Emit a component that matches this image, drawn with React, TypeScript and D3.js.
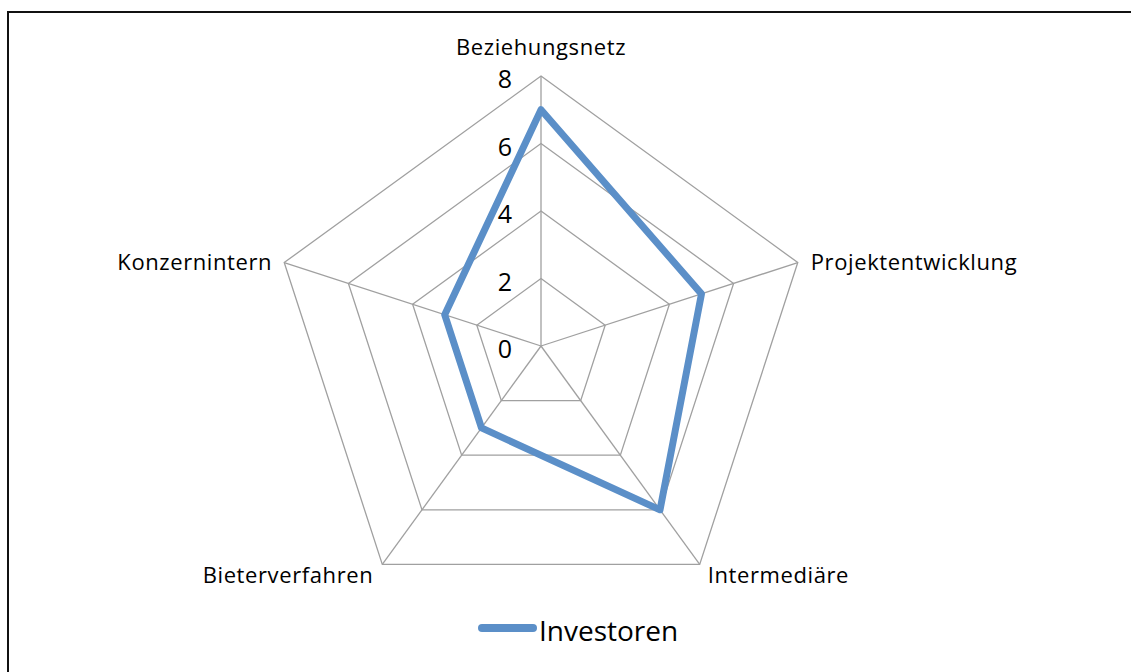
import React from "react";
import * as d3 from "d3";

const categories = [
  "Beziehungsnetz",
  "Projektentwicklung",
  "Intermediäre",
  "Bieterverfahren",
  "Konzernintern",
];
const investoren = [7, 5, 6, 3, 3];
const tickValues = [0, 2, 4, 6, 8];
const seriesName = "Investoren";

const W = 1131;
const H = 672;
const cx = 541;
const cy = 346;
const radius = 270;
const blue = "#5b8fc8";
const font = "'Open Sans', sans-serif";

export default function App() {
  const rScale = d3.scaleLinear().domain([0, 8]).range([0, radius]);
  const angle = d3
    .scaleLinear()
    .domain([0, categories.length])
    .range([0, 2 * Math.PI]);

  const pt = (i: number, v: number): [number, number] => {
    const a = angle(i);
    return [cx + rScale(v) * Math.sin(a), cy - rScale(v) * Math.cos(a)];
  };

  const polygon = (v: number) =>
    "M" + categories.map((_, i) => pt(i, v).join(",")).join("L") + "Z";

  const seriesPath =
    "M" + investoren.map((v, i) => pt(i, v).join(",")).join("L") + "Z";

  // label placement per axis
  const labelPos = (i: number) => {
    const [x, y] = pt(i, 8);
    if (i === 0) return { x, y: y - 21, anchor: "middle" };
    if (i === 1) return { x: x + 13, y: y + 7, anchor: "start" };
    if (i === 2) return { x: x + 8, y: y + 19, anchor: "start" };
    if (i === 3) return { x: x - 9, y: y + 19, anchor: "end" };
    return { x: x - 12, y: y + 7, anchor: "end" };
  };

  return (
    <svg
      width={W}
      height={H}
      style={{ position: "absolute", left: 0, top: 0, display: "block" }}
    >
      <rect x={0} y={0} width={W} height={H} fill="#fff" />
      <rect
        x={8}
        y={12}
        width={W + 20}
        height={H + 20}
        fill="none"
        stroke="#111"
        strokeWidth={2}
      />
      <g className="grid" fill="none" stroke="#a0a0a0" strokeWidth={1.3}>
        {tickValues.slice(1).map((t) => (
          <path key={t} d={polygon(t)} />
        ))}
        {categories.map((c, i) => {
          const [x, y] = pt(i, 8);
          return <line key={c} x1={cx} y1={cy} x2={x} y2={y} />;
        })}
      </g>
      <g className="ticks" fontFamily={font} fontSize={25} fill="#000">
        {tickValues.map((t) => (
          <text key={t} x={cx - 29} y={cy - rScale(t) + 12} textAnchor="end">
            {t}
          </text>
        ))}
      </g>
      <path
        d={seriesPath}
        fill="none"
        stroke={blue}
        strokeWidth={7}
        strokeLinejoin="round"
      />
      <g
        className="labels"
        fontFamily={font}
        fontSize={22}
        letterSpacing={0.6}
        fill="#000"
      >
        {categories.map((c, i) => {
          const p = labelPos(i);
          return (
            <text key={c} x={p.x} y={p.y} textAnchor={p.anchor as any}>
              {c}
            </text>
          );
        })}
      </g>
      <g className="legend">
        <line
          x1={482}
          x2={533}
          y1={628}
          y2={628}
          stroke={blue}
          strokeWidth={8}
          strokeLinecap="round"
        />
        <text x={539} y={641} fontFamily={font} fontSize={28} fill="#000">
          {seriesName}
        </text>
      </g>
    </svg>
  );
}
